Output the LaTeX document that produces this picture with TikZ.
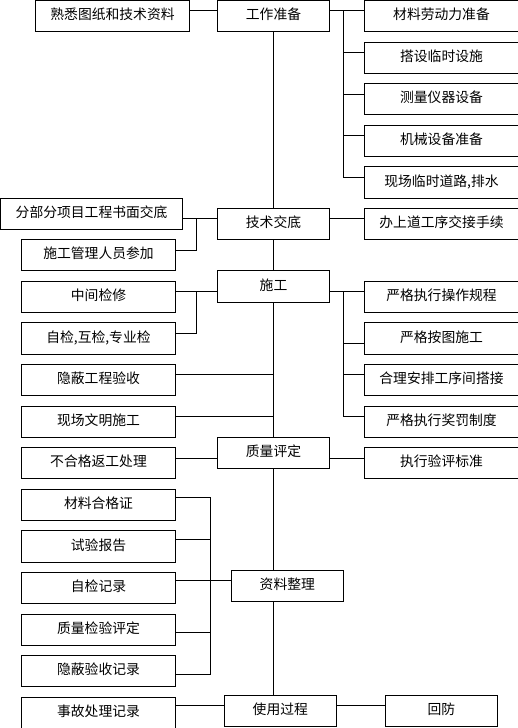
\documentclass[tikz,border=0pt]{standalone}
\usepackage{fontspec}
\setmainfont{Noto Sans CJK SC}
\begin{document}
\begin{tikzpicture}[x=1pt,y=-1pt,
  box/.style={draw, line width=1pt, inner sep=0pt, minimum height=31pt,
    font=\fontsize{13.8}{16}\selectfont, text height=10pt, text depth=2.6pt},
  lbox/.style={box, minimum width=154.4pt},
  cbox/.style={box, minimum width=112.4pt},
  rbox/.style={box, minimum width=154.4pt},
  conn/.style={line width=1pt}]
\useasboundingbox (0,0) rectangle (518,728);
\clip (0,0) rectangle (518,728);
% level coordinates
\coordinate (La) at (0,10.3);
\coordinate (Lb) at (0,52.3);
\coordinate (Lc) at (0,94.3);
\coordinate (Ld) at (0,135.7);
\coordinate (Le) at (0,177);
\coordinate (Lf) at (0,218.3);
\coordinate (Lg) at (0,250.7);
\coordinate (Lh) at (0,291.3);
\coordinate (Li) at (0,333.3);
\coordinate (Lj) at (0,343.3);
\coordinate (Lk) at (0,374.3);
\coordinate (Ll) at (0,416.3);
\coordinate (Lm) at (0,458.3);
\coordinate (Ln) at (0,497.7);
\coordinate (Lo) at (0,539.3);
\coordinate (Lp) at (0,580.3);
\coordinate (Lq) at (0,632.3);
\coordinate (Lr) at (0,674.3);
\coordinate (Ls) at (0,705.3);
\coordinate (Xr) at (343.3,0);
\coordinate (Xl) at (196.7,0);
\coordinate (Xd) at (210.3,0);
\coordinate (Xc) at (273.3,0);
% nodes
\node[lbox] (shuxi) at (112.5,16.2) {熟悉图纸和技术资料};
\node[cbox] (gzzb) at (273.5,16.2) {工作准备};
\node[rbox] (r1) at (441.5,16.2) {材料劳动力准备};
\node[rbox] (r2) at (441.5,57.7) {搭设临时设施};
\node[rbox] (r3) at (441.5,98.8) {测量仪器设备};
\node[rbox] (r4) at (441.5,140.5) {机械设备准备};
\node[rbox, minimum height=32pt] (r5) at (441.5,182.3) {现场临时道路,排水};
\node[box, minimum width=182.2pt] (fbf) at (91.6,213.8) {分部分项目工程书面交底};
\node[lbox] (sggl) at (98.5,254.8) {施工管理人员参加};
\node[cbox] (jsjd) at (273.5,223.8) {技术交底};
\node[rbox] (bsd) at (441.5,223.8) {办上道工序交接手续};
\node[cbox, minimum height=32pt] (sg) at (273.5,286.3) {施工};
\node[lbox] (zjjx) at (98.5,296.8) {中间检修};
\node[lbox, minimum height=32pt] (zj) at (98.5,338.3) {自检,互检,专业检};
\node[lbox] (ybgc) at (98.5,379.7) {隐蔽工程验收};
\node[lbox] (xcwm) at (98.5,421.7) {现场文明施工};
\node[rbox] (s1) at (441.5,296.8) {严格执行操作规程};
\node[rbox, minimum height=32pt] (s2) at (441.5,338.3) {严格按图施工};
\node[rbox] (s3) at (441.5,379.7) {合理安排工序间搭接};
\node[rbox] (s4) at (441.5,421.7) {严格执行奖罚制度};
\node[cbox] (zlpd) at (273.5,452.8) {质量评定};
\node[lbox] (bhg) at (98.5,462.8) {不合格返工处理};
\node[rbox] (zxyp) at (441.5,462.8) {执行验评标准};
\node[lbox] (clhg) at (98.5,504.8) {材料合格证};
\node[lbox, minimum height=32pt] (sybg) at (98.5,546.3) {试验报告};
\node[lbox] (zjjl) at (98.5,587.8) {自检记录};
\node[lbox] (zljy) at (98.5,629.8) {质量检验评定};
\node[lbox] (ybys) at (98.5,670.8) {隐蔽验收记录};
\node[cbox] (zlzl) at (287.3,585.8) {资料整理};
\node[cbox] (sygc) at (280.3,710.8) {使用过程};
\node[lbox] (sgcl) at (98.5,712.8) {事故处理记录};
\node[cbox] (hf) at (441.3,710.8) {回防};
% central spine
\draw[conn] (gzzb.south -| Xc) -- (jsjd.north -| Xc);
\draw[conn] (jsjd.south -| Xc) -- (sg.north -| Xc);
\draw[conn] (sg.south -| Xc) -- (zlpd.north -| Xc);
\draw[conn] (zlpd.south -| Xc) -- (zlzl.north -| Xc);
\draw[conn] (zlzl.south -| Xc) -- (sygc.north -| Xc);
% top row
\draw[conn] (shuxi.east |- La) -- (gzzb.west |- La);
\draw[conn] (gzzb.east |- La) -- (r1.west |- La);
\draw[conn] (La -| Xr) -- (Le -| Xr);
\draw[conn] (Lb -| Xr) -- (r2.west |- Lb);
\draw[conn] (Lc -| Xr) -- (r3.west |- Lc);
\draw[conn] (Ld -| Xr) -- (r4.west |- Ld);
\draw[conn] (Le -| Xr) -- (r5.west |- Le);
% 技术交底
\draw[conn] (fbf.east |- Lf) -- (jsjd.west |- Lf);
\draw[conn] (Lf -| Xl) -- (Lg -| Xl) -- (sggl.east |- Lg);
\draw[conn] (jsjd.east |- Lf) -- (bsd.west |- Lf);
% 施工
\draw[conn] (zjjx.east |- Lh) -- (sg.west |- Lh);
\draw[conn] (Lh -| Xl) -- (Li -| Xl) -- (zj.east |- Li);
\draw[conn] (ybgc.east |- Lk) -- (Lk -| Xc);
\draw[conn] (xcwm.east |- Ll) -- (Ll -| Xc);
\draw[conn] (sg.east |- Lh) -- (s1.west |- Lh);
\draw[conn] (Lh -| Xr) -- (Ll -| Xr);
\draw[conn] (Lj -| Xr) -- (s2.west |- Lj);
\draw[conn] (Lk -| Xr) -- (s3.west |- Lk);
\draw[conn] (Ll -| Xr) -- (s4.west |- Ll);
% 质量评定
\draw[conn] (bhg.east |- Lm) -- (zlpd.west |- Lm);
\draw[conn] (zlpd.east |- Lm) -- (zxyp.west |- Lm);
% 资料整理
\draw[conn] (clhg.east |- Ln) -- (Ln -| Xd) -- (Lr -| Xd) -- (ybys.east |- Lr);
\draw[conn] (sybg.east |- Lo) -- (Lo -| Xd);
\draw[conn] (zjjl.east |- Lp) -- (zlzl.west |- Lp);
\draw[conn] (zljy.east |- Lq) -- (Lq -| Xd);
% 使用过程
\draw[conn] (sgcl.east |- Ls) -- (sygc.west |- Ls);
\draw[conn] (sygc.east |- Ls) -- (hf.west |- Ls);
\end{tikzpicture}
\end{document}
